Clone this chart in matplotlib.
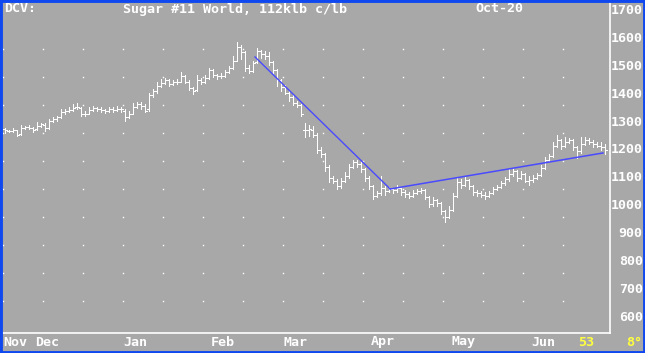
import numpy as np
import matplotlib
matplotlib.use('Agg')
import matplotlib.pyplot as plt
from matplotlib.patches import Rectangle
import matplotlib.transforms as mtransforms

# daily bars, Sugar #11 (Oct-20)
opens = [1270, 1262, 1262, 1265, 1252, 1275, 1278, 1275, 1270, 1282,
         1285, 1275, 1300, 1305, 1312, 1330, 1335, 1338, 1348, 1345,
         1322, 1325, 1338, 1345, 1343, 1338, 1335, 1340, 1338, 1342,
         1335, 1312, 1325, 1350, 1360, 1352, 1340, 1390, 1405, 1425,
         1435, 1445, 1432, 1438, 1440, 1460, 1440, 1415, 1410, 1445,
         1440, 1452, 1480, 1462, 1458, 1460, 1475, 1488, 1515, 1565,
         1545, 1490, 1478, 1510, 1548, 1540, 1530, 1510, 1482, 1445,
         1422, 1400, 1385, 1362, 1355, 1265, 1265, 1268, 1250, 1195,
         1180, 1135, 1095, 1085, 1065, 1085, 1100, 1135, 1150, 1145,
         1128, 1095, 1065, 1030, 1040, 1060, 1048, 1055, 1050, 1060,
         1045, 1038, 1030, 1042, 1048, 1052, 1025, 1000, 1015, 1005,
         975, 955, 980, 1030, 1080, 1070, 1088, 1065, 1045, 1040,
         1035, 1030, 1040, 1055, 1062, 1075, 1090, 1110, 1120, 1095,
         1110, 1085, 1088, 1095, 1105, 1130, 1160, 1172, 1210, 1232,
         1210, 1225, 1232, 1205, 1190, 1215, 1232, 1225, 1215, 1210,
         1205]
highs = [1275, 1268, 1272, 1268, 1285, 1282, 1285, 1278, 1295, 1292,
         1290, 1305, 1312, 1318, 1340, 1342, 1348, 1358, 1362, 1350,
         1335, 1348, 1352, 1350, 1348, 1342, 1348, 1350, 1352, 1348,
         1340, 1335, 1362, 1368, 1365, 1360, 1400, 1412, 1440, 1448,
         1452, 1448, 1445, 1448, 1475, 1465, 1445, 1420, 1462, 1452,
         1462, 1490, 1485, 1468, 1470, 1482, 1495, 1530, 1580, 1570,
         1550, 1500, 1512, 1560, 1552, 1548, 1545, 1515, 1485, 1450,
         1428, 1410, 1390, 1370, 1360, 1290, 1285, 1280, 1255, 1205,
         1185, 1140, 1100, 1090, 1095, 1115, 1145, 1160, 1158, 1150,
         1130, 1100, 1070, 1048, 1100, 1065, 1062, 1060, 1068, 1062,
         1050, 1045, 1050, 1055, 1058, 1055, 1030, 1025, 1018, 1010,
         980, 995, 1040, 1095, 1090, 1098, 1092, 1070, 1052, 1048,
         1045, 1048, 1062, 1070, 1085, 1098, 1125, 1130, 1122, 1118,
         1112, 1100, 1105, 1112, 1140, 1168, 1180, 1225, 1250, 1235,
         1240, 1238, 1235, 1210, 1240, 1242, 1238, 1232, 1225, 1222,
         1215]
lows = [1255, 1258, 1258, 1245, 1250, 1270, 1270, 1260, 1265, 1278,
        1262, 1270, 1295, 1300, 1308, 1325, 1330, 1335, 1340, 1315,
        1318, 1322, 1335, 1335, 1332, 1328, 1332, 1332, 1335, 1330,
        1300, 1308, 1322, 1345, 1340, 1330, 1335, 1385, 1400, 1420,
        1430, 1425, 1428, 1432, 1438, 1435, 1410, 1395, 1405, 1430,
        1435, 1448, 1455, 1450, 1452, 1455, 1470, 1485, 1512, 1520,
        1478, 1470, 1475, 1505, 1525, 1520, 1500, 1470, 1425, 1405,
        1395, 1370, 1355, 1350, 1315, 1240, 1245, 1240, 1185, 1170,
        1120, 1080, 1078, 1055, 1060, 1080, 1095, 1130, 1135, 1115,
        1085, 1055, 1020, 1025, 1035, 1035, 1045, 1040, 1045, 1035,
        1028, 1022, 1028, 1038, 1042, 1018, 990, 995, 995, 965,
        935, 950, 975, 1025, 1060, 1065, 1055, 1035, 1030, 1025,
        1018, 1028, 1038, 1050, 1058, 1070, 1085, 1100, 1085, 1090,
        1080, 1070, 1080, 1090, 1100, 1125, 1155, 1168, 1205, 1198,
        1205, 1220, 1195, 1165, 1185, 1212, 1215, 1205, 1205, 1195,
        1180]
closes = [1265, 1262, 1265, 1250, 1275, 1278, 1275, 1268, 1280, 1288,
          1275, 1300, 1305, 1312, 1330, 1335, 1338, 1345, 1348, 1322,
          1325, 1338, 1345, 1343, 1338, 1335, 1340, 1338, 1342, 1340,
          1312, 1325, 1350, 1360, 1352, 1335, 1390, 1405, 1425, 1435,
          1445, 1432, 1438, 1440, 1460, 1440, 1415, 1405, 1445, 1440,
          1452, 1480, 1462, 1458, 1460, 1475, 1488, 1515, 1565, 1545,
          1490, 1478, 1505, 1548, 1540, 1530, 1510, 1482, 1445, 1422,
          1400, 1385, 1362, 1355, 1325, 1265, 1270, 1250, 1195, 1180,
          1135, 1095, 1085, 1065, 1085, 1100, 1135, 1150, 1145, 1128,
          1095, 1065, 1030, 1040, 1060, 1048, 1055, 1050, 1060, 1045,
          1038, 1030, 1042, 1048, 1052, 1025, 1000, 1015, 1005, 975,
          955, 980, 1030, 1080, 1070, 1088, 1065, 1045, 1040, 1035,
          1030, 1040, 1055, 1062, 1075, 1090, 1110, 1120, 1095, 1110,
          1085, 1088, 1095, 1105, 1130, 1160, 1172, 1210, 1232, 1210,
          1225, 1232, 1205, 1190, 1215, 1232, 1225, 1215, 1210, 1205,
          1195]

# month labels and the bar index they start at
month_labels = ['Nov', 'Dec', 'Jan', 'Feb', 'Mar', 'Apr', 'May', 'Jun']
month_starts = [0, 8, 30, 52, 70, 92, 112, 132]

# trend lines (bar index, price)
trend_down_x = [62.5, 96.3]
trend_down_y = [1528, 1055]
trend_up_x = [96.3, 149.5]
trend_up_y = [1055, 1184]

price_ticks = [600, 700, 800, 900, 1000, 1100, 1200, 1300, 1400, 1500, 1600, 1700]

BG = '#a8a8a8'
FONT = dict(family='DejaVu Sans Mono', weight='bold', size=9.6)


def draw_chart():
    fig = plt.figure(figsize=(6.45, 3.53), dpi=100, facecolor=BG)
    W, H = 645, 353
    ax = fig.add_axes([3 / W, 20 / H, 607 / W, 333 / H])
    ax.set_facecolor(BG)

    n = len(closes)
    x = np.arange(n)
    ax.set_xlim(-0.5, -0.5 + 607 / 4)
    ax.set_ylim(539, 1732)

    # dotted grid (every 10 bars / ~100 cents)
    gx, gy = np.meshgrid(np.arange(-0.5, 141, 10), np.arange(655, 1560, 100))
    ax.plot(gx.ravel(), gy.ravel(), ls='none', marker='s', ms=1.0,
            mec='none', mfc='white', zorder=1)

    # OHLC bars, 1 px wide
    ax.vlines(x, lows, highs, color='white', lw=0.72, antialiased=False, zorder=3)
    ax.hlines(opens, x - 0.5, x, color='white', lw=0.72, antialiased=False, zorder=3)
    ax.hlines(closes, x, x + 0.5, color='white', lw=0.72, antialiased=False, zorder=3)

    # trend lines
    ax.plot(trend_down_x, trend_down_y, color='#4a4aff', lw=1.0, zorder=4)
    ax.plot(trend_up_x, trend_up_y, color='#4a4aff', lw=1.1, zorder=4)

    for side in ['left', 'top']:
        ax.spines[side].set_visible(False)
    for side in ['right', 'bottom']:
        ax.spines[side].set_color('white')
        ax.spines[side].set_linewidth(1.2)

    ax.yaxis.tick_right()
    ax.set_yticks(price_ticks)
    ax.set_yticklabels([str(p) for p in price_ticks], **FONT)
    ax.tick_params(axis='y', length=0, colors='white', pad=23.5)
    for lbl in ax.get_yticklabels():
        lbl.set_horizontalalignment('right')
    ax.set_xticks([])

    # month labels under the axis
    trans = mtransforms.blended_transform_factory(ax.transData, fig.transFigure)
    for lab, pos in zip(month_labels, month_starts):
        ax.text(pos - 0.5, 1 - 342 / H, lab, color='white', ha='left',
                va='center', transform=trans, clip_on=False, **FONT)

    fig.text(586 / W, 1 - 342 / H, '53', color='#ffff40', ha='center',
             va='center', **FONT)
    fig.text(642 / W, 1 - 342 / H, '8°', color='#ffff40', ha='right',
             va='center', **FONT)

    # header
    fig.text(4 / W, 1 - 9 / H, 'DCV:', color='white', ha='left', va='center', **FONT)
    fig.text(123 / W, 1 - 9 / H, 'Sugar #11 World, 112klb c/lb', color='white',
             ha='left', va='center', **FONT)
    fig.text(475 / W, 1 - 9 / H, 'Oct-20', color='white', ha='left',
             va='center', **FONT)

    # window border
    fig.patches.append(Rectangle((0, 0), 1, 1, transform=fig.transFigure,
                                 fill=False, edgecolor='#1048f0', lw=3.5))

    fig.savefig('out.png', dpi=100, facecolor=BG)
    plt.close(fig)


if __name__ == "__main__":
    draw_chart()
